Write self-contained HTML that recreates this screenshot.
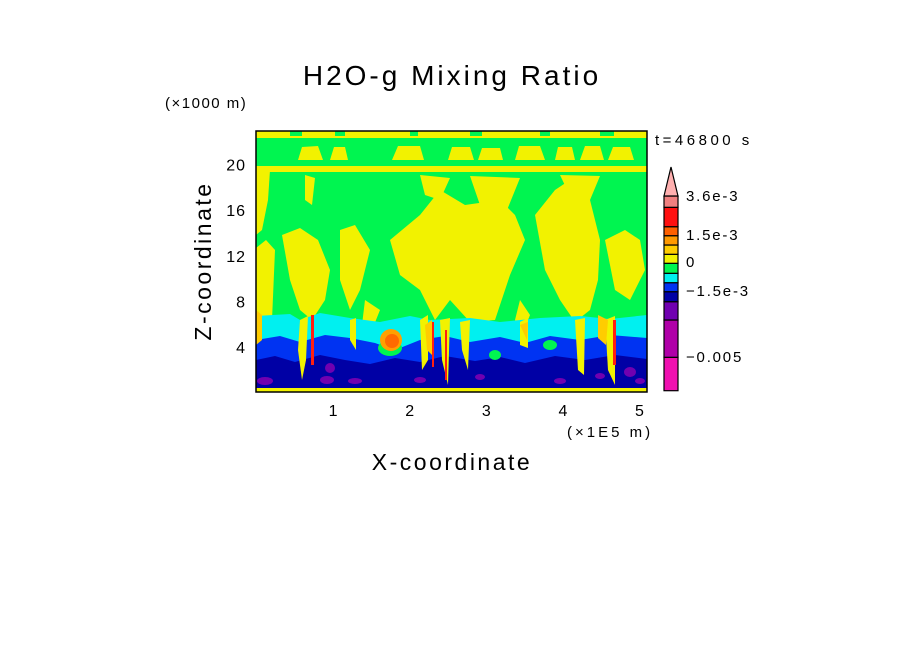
<!DOCTYPE html>
<html><head><meta charset="utf-8"><style>
html,body{margin:0;padding:0;background:#fff;width:904px;height:654px;overflow:hidden}
svg text{font-family:"Liberation Sans",sans-serif;fill:#000}
</style></head><body>
<svg id="chart" width="904" height="654" viewBox="0 0 904 654">
<defs><clipPath id="pc"><rect x="256" y="131" width="391" height="261"/></clipPath></defs>
<text x="452" y="85" font-size="28" letter-spacing="3" text-anchor="middle">H2O-g Mixing Ratio</text>
<text x="165" y="108" font-size="15" letter-spacing="1.5">(×1000 m)</text>
<text x="655" y="145" font-size="15" letter-spacing="3.5">t=46800 s</text>
<text x="567" y="437" font-size="15" letter-spacing="3">(×1E5 m)</text>
<text x="452" y="470" font-size="23" letter-spacing="2.5" text-anchor="middle">X-coordinate</text>
<text transform="translate(211,261) rotate(-90)" font-size="23" letter-spacing="2.5" text-anchor="middle">Z-coordinate</text>
<g clip-path="url(#pc)">
<rect x="256" y="131" width="391" height="261" fill="#00f550"/>
<rect x="256" y="131" width="391" height="7" fill="#f2f200"/>
<g fill="#00f550"><rect x="290" y="131" width="12" height="5"/><rect x="335" y="131" width="10" height="5"/><rect x="410" y="131" width="8" height="5"/><rect x="470" y="131" width="12" height="5"/><rect x="540" y="131" width="10" height="5"/><rect x="600" y="131" width="14" height="5"/></g>
<g fill="#f2f200">
<path d="M298,160 L302,147 L318,146 L323,160Z"/><path d="M330,160 L334,147 L345,147 L348,160Z"/>
<path d="M392,160 L398,146 L420,146 L424,160Z"/><path d="M448,160 L452,147 L470,147 L474,160Z"/>
<path d="M478,160 L482,148 L500,148 L503,160Z"/><path d="M515,160 L519,146 L540,146 L545,160Z"/>
<path d="M555,160 L558,147 L572,147 L575,160Z"/><path d="M580,160 L585,146 L600,146 L604,160Z"/>
<path d="M608,160 L613,147 L630,147 L634,160Z"/>
<rect x="256" y="166" width="391" height="6"/>
<path d="M256,170 L270,170 L268,200 L262,230 L256,235Z"/>
<path d="M305,175 L315,178 L312,205 L305,200Z"/>
<path d="M420,175 L450,178 L440,200 L425,195Z"/>
<path d="M470,176 L520,178 L505,215 L480,205Z"/>
<path d="M560,175 L600,176 L590,200 L570,196Z"/>
<path d="M256,248 L266,240 L275,250 L272,320 L256,322Z"/>
<path d="M282,235 L300,228 L318,240 L330,270 L325,300 L312,320 L300,310 L290,280Z"/>
<path d="M340,230 L355,225 L370,250 L360,290 L350,310 L340,280Z"/>
<path d="M390,240 L420,215 L440,190 L465,205 L500,200 L515,215 L525,240 L510,275 L495,320 L470,322 L450,300 L435,320 L420,290 L400,275Z"/>
<path d="M535,215 L555,190 L570,180 L590,200 L600,240 L598,280 L590,310 L575,322 L560,300 L545,270Z"/>
<path d="M605,240 L625,230 L640,240 L645,270 L630,300 L615,290Z"/>
<path d="M365,300 L380,310 L372,330 L362,325Z"/>
<path d="M520,300 L530,315 L522,335 L515,320Z"/>
</g>
<path fill="#00f0f0" d="M256,316 L290,314 L300,320 L320,313 L350,318 L380,322 L410,316 L430,320 L470,318 L500,322 L540,318 L580,316 L610,319 L647,315 L647,392 L256,392Z"/>
<path fill="#0033f2" d="M256,340 L280,336 L300,342 L325,335 L350,338 L375,343 L395,350 L420,340 L445,336 L470,342 L500,337 L525,343 L550,336 L580,340 L610,335 L647,338 L647,392 L256,392Z"/>
<path fill="#0000a5" d="M256,360 L275,356 L295,362 L320,355 L345,360 L370,364 L395,358 L420,362 L445,356 L475,361 L500,357 L525,363 L555,356 L585,360 L615,355 L647,359 L647,389 L256,389Z"/>
<g fill="#7000b0"><ellipse cx="265" cy="381" rx="8" ry="4"/><ellipse cx="330" cy="368" rx="5" ry="5"/><ellipse cx="327" cy="380" rx="7" ry="4"/><ellipse cx="355" cy="381" rx="7" ry="3"/><ellipse cx="420" cy="380" rx="6" ry="3"/><ellipse cx="480" cy="377" rx="5" ry="3"/><ellipse cx="560" cy="381" rx="6" ry="3"/><ellipse cx="600" cy="376" rx="5" ry="3"/><ellipse cx="630" cy="372" rx="6" ry="5"/><ellipse cx="640" cy="381" rx="5" ry="3"/></g>
<g fill="#f2f200"><path d="M300,320 L308,316 L306,360 L302,380 L298,350Z"/><path d="M350,320 L356,318 L356,350 L350,340Z"/><path d="M420,320 L428,315 L428,360 L422,370Z"/><path d="M440,320 L450,318 L448,385 L442,360Z"/><path d="M460,322 L470,320 L468,370 L462,350Z"/><path d="M520,322 L528,318 L528,348 L520,345Z"/><path d="M575,320 L585,318 L584,375 L578,370Z"/><path d="M605,320 L615,316 L615,385 L608,370Z"/></g>
<g fill="#00f550"><ellipse cx="390" cy="348" rx="12" ry="8"/><ellipse cx="495" cy="355" rx="6" ry="5"/><ellipse cx="550" cy="345" rx="7" ry="5"/></g>
<g fill="#ffcc00"><path d="M256,310 L262,315 L262,340 L256,345Z"/><path d="M425,325 L432,320 L432,355 L427,350Z"/><path d="M520,325 L528,322 L527,340Z"/><path d="M598,315 L608,320 L606,345 L598,338Z"/></g>
<ellipse cx="391" cy="340" rx="11" ry="11" fill="#ffa000"/>
<ellipse cx="392" cy="341" rx="7" ry="7" fill="#ff6a00"/>
<g fill="#ff2010"><rect x="311" y="315" width="3" height="50"/><rect x="432" y="322" width="2" height="45"/><rect x="445" y="330" width="2" height="50"/><rect x="613" y="320" width="3" height="45"/></g>
<rect x="256" y="388" width="391" height="4" fill="#f2f200"/>
</g>
<rect x="256" y="131" width="391" height="261" fill="none" stroke="#000" stroke-width="1.5"/>
<g id="xticks"></g>
<g id="yticks"></g>
<g id="cbar"></g>
</svg>
<script>
const xTicks = [1, 2, 3, 4, 5];
const yTicks = [4, 8, 12, 16, 20];
const levelColors = ["#f010b0","#b000a8","#7000b0","#0000a5","#0033f2","#00f0f0","#00f550","#f2f200","#ffcc00","#ff9900","#ff6000","#ff1010","#f08080"];
const levelEdges = [390.7,357.3,320,301.7,291.7,282.7,273.3,263.3,254.3,245,235.7,226.7,207.3,196];
const cbarLabels = ["3.6e-3","1.5e-3","0","\u22121.5e-3","\u22120.005"];
const cbarLabelY = [201,240,267,296,362];
const NS="http://www.w3.org/2000/svg";
const xs = v => 256.5 + v*76.6;
const ys = v => 392.6 - v*11.4;
const xg=document.getElementById('xticks'), yg=document.getElementById('yticks'), cb=document.getElementById('cbar');
xTicks.forEach(v=>{const t=document.createElementNS(NS,'text');


t.setAttribute('x',xs(v));t.setAttribute('y',416);t.setAttribute('font-size','16');t.setAttribute('text-anchor','middle');t.textContent=v;xg.appendChild(t);});
yTicks.forEach(v=>{const t=document.createElementNS(NS,'text');


t.setAttribute('x',246);t.setAttribute('y',ys(v)+6);t.setAttribute('font-size','16');t.setAttribute('letter-spacing','1');t.setAttribute('text-anchor','end');t.textContent=v;yg.appendChild(t);});
for(let i=0;i<levelColors.length;i++){const r=document.createElementNS(NS,'rect');


r.setAttribute('x',664);r.setAttribute('y',levelEdges[i+1]);r.setAttribute('width',14);r.setAttribute('height',levelEdges[i]-levelEdges[i+1]);
r.setAttribute('fill',levelColors[i]);r.setAttribute('stroke','#000');r.setAttribute('stroke-width','1.2');cb.appendChild(r);}
const tri=document.createElementNS(NS,'path');


tri.setAttribute('d','M664,196 L671,167 L678,196Z');tri.setAttribute('fill','#ffb0b0');tri.setAttribute('stroke','#000');tri.setAttribute('stroke-width','1.2');cb.appendChild(tri);
cbarLabels.forEach((s,i)=>{const t=document.createElementNS(NS,'text');


t.setAttribute('x',686);t.setAttribute('y',cbarLabelY[i]);t.setAttribute('font-size','15');t.setAttribute('letter-spacing','1.8');t.textContent=s;cb.appendChild(t);});
</script>
</body></html>
